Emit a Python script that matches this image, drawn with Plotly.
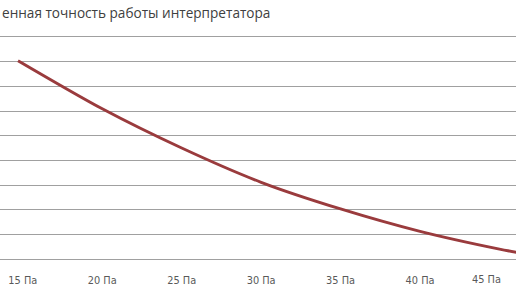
import plotly.graph_objects as go

title_text = "енная точность работы интерпретатора"
pressure = [14.7, 20, 25, 30, 35, 40, 45, 46.1]
accuracy = [80.4, 60.9, 45.0, 31.1, 20.3, 11.2, 4.0, 2.7]
tick_vals = [15, 20, 25, 30, 35, 40]
tick_text = ["15 Па", "20 Па", "25 Па", "30 Па", "35 Па", "40 Па"]
last_tick_val = 45
last_tick_text = "45 Па"

fig = go.Figure()
fig.add_trace(go.Scatter(
    x=pressure, y=accuracy, mode="lines",
    line=dict(color="#9A3B3D", width=3, shape="spline", smoothing=0.8),
    hoverinfo="skip", showlegend=False,
))

tick_font = dict(family="DejaVu Sans", size=9.8, color="#595959")

fig.update_layout(
    width=516, height=290,
    margin=dict(l=0, r=0, t=37, b=31),
    paper_bgcolor="white", plot_bgcolor="white",
    xaxis=dict(
        range=[13.565, 46.04], tickvals=tick_vals, ticktext=tick_text,
        showgrid=False, zeroline=False, showline=True, mirror=True,
        linecolor="#A0A0A0", linewidth=1, ticks="",
        tickfont=tick_font, ticklabelstandoff=12,
    ),
    yaxis=dict(
        range=[0, 90], dtick=10, tick0=0, showgrid=True,
        gridcolor="#A0A0A0", gridwidth=1, zeroline=False,
        showticklabels=False, showline=False, ticks="",
    ),
    annotations=[
        dict(text=title_text, xref="paper", yref="paper", x=0, y=1,
             xanchor="left", yanchor="middle", yshift=24.5, showarrow=False,
             font=dict(family="Open Sans", size=13.6, color="#404040")),
        dict(text=last_tick_text, xref="x", yref="paper", x=last_tick_val, y=0,
             xanchor="center", yanchor="middle", xshift=-12.5, yshift=-20,
             showarrow=False, font=tick_font),
    ],
)

fig.write_html("out.html")
